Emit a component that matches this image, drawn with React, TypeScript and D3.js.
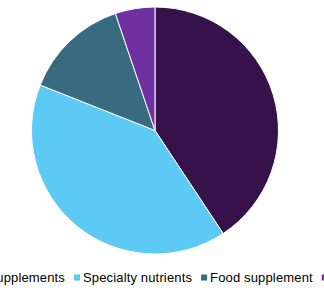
import React, { useEffect, useRef } from "react";
import * as d3 from "d3";

const categories = ["Dietary supplements", "Specialty nutrients", "Food supplement", "Other"];
const values = [40.7, 40.3, 13.8, 5.2];
const colors = ["#37124a", "#5dcaf5", "#386a80", "#6f30a0"];

const W = 324;
const H = 295;

export default function App() {
  const ref = useRef<SVGSVGElement>(null);

  useEffect(() => {
    const svg = d3.select(ref.current);
    svg.selectAll("*").remove();
    const cx = 155, cy = 130.5, r = 123.5;
    const pie = d3.pie<number>().sort(null).value((d) => d);
    const arc = d3.arc<d3.PieArcDatum<number>>().innerRadius(0).outerRadius(r);
    const g = svg.append("g").attr("transform", `translate(${cx},${cy})`);
    g.selectAll("path")
      .data(pie(values))
      .join("path")
      .attr("d", arc)
      .attr("fill", (_, i) => colors[i])
      .attr("stroke", "#fff")
      .attr("stroke-width", 1)
      .attr("stroke-linejoin", "round");

    // legend
    const lg = svg.append("g");
    const fontSize = 13;
    const baseline = 281.5;
    const sq = 6;
    const gapSqText = 3;
    const gapItem = 9;
    const items = categories.map((c, i) => {
      const t = lg.append("text")
        .attr("y", baseline)
        .attr("font-family", "Liberation Sans, Arial, sans-serif")
        .attr("font-size", fontSize)
        .attr("letter-spacing", 0.15)
        .attr("fill", "#000")
        .text(c);
      const w = (t.node() as SVGTextElement).getComputedTextLength();
      const s = lg.append("rect")
        .attr("y", baseline - 7)
        .attr("width", sq)
        .attr("height", sq)
        .attr("fill", colors[i]);
      return { t, s, w };
    });
    // anchor: second item square at x=74
    let x = 74;
    for (let i = 1; i < items.length; i++) {
      items[i].s.attr("x", x);
      items[i].t.attr("x", x + sq + gapSqText);
      x += sq + gapSqText + items[i].w + gapItem;
    }
    // first item to the left
    const textEnd = 74 - gapItem;
    items[0].t.attr("x", textEnd - items[0].w);
    items[0].s.attr("x", textEnd - items[0].w - gapSqText - sq);
  }, []);

  return (
    <svg
      ref={ref}
      width={W}
      height={H}
      style={{ position: "absolute", left: 0, top: 0, background: "#fff" }}
    />
  );
}
